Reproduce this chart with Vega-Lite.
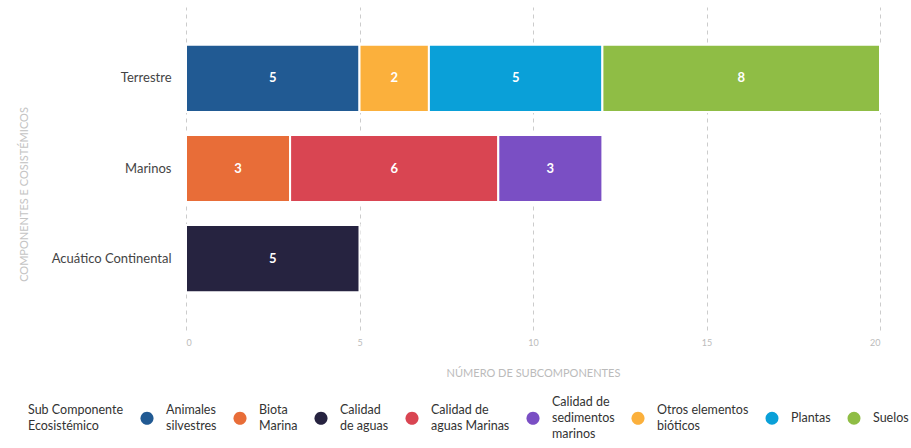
{
  "$schema": "https://vega.github.io/schema/vega-lite/v6.json",
  "width": 694,
  "height": 323,
  "autosize": {"type": "none"},
  "padding": {"left": 186, "top": 7, "right": 31, "bottom": 118},
  "config": {
    "font": "Lato",
    "view": {"stroke": null},
    "style": {"guide-label": {"lineHeight": 16}}
  },
  "data": {
    "values": [
      {"componente": "Terrestre", "sub": "Animales silvestres", "value": 5},
      {"componente": "Terrestre", "sub": "Otros elementos bióticos", "value": 2},
      {"componente": "Terrestre", "sub": "Plantas", "value": 5},
      {"componente": "Terrestre", "sub": "Suelos", "value": 8},
      {"componente": "Marinos", "sub": "Biota Marina", "value": 3},
      {"componente": "Marinos", "sub": "Calidad de aguas Marinas", "value": 6},
      {"componente": "Marinos", "sub": "Calidad de sedimentos marinos", "value": 3},
      {"componente": "Acuático Continental", "sub": "Calidad de aguas", "value": 5}
    ]
  },
  "encoding": {
    "y": {
      "field": "componente",
      "type": "nominal",
      "sort": ["Terrestre", "Marinos", "Acuático Continental"],
      "scale": {"paddingInner": 0.256, "paddingOuter": 0.42},
      "axis": {
        "domain": false,
        "ticks": false,
        "labelPadding": 15,
        "labelFontSize": 13,
        "labelColor": "#444444",
        "title": "COMPONENTES E COSISTÉMICOS",
        "titleFontSize": 11,
        "titleFontWeight": "normal",
        "titleColor": "#c4c4c4",
        "titleX": -162,
        "titleY": 187,
        "titleAngle": 270,
        "titleAlign": "center",
        "titleBaseline": "middle"
      }
    }
  },
  "layer": [
    {
      "mark": {"type": "bar", "stroke": "white", "strokeWidth": 2},
      "encoding": {
        "x": {
          "field": "value",
          "type": "quantitative",
          "stack": "zero",
          "scale": {"domain": [0, 20], "nice": false},
          "title": "NÚMERO DE SUBCOMPONENTES",
          "axis": {
            "values": [0, 5, 10, 15, 20],
            "grid": true,
            "gridDash": [4, 4],
            "gridColor": "#cccccc",
            "domain": false,
            "ticks": false,
            "labelFontSize": 9,
            "labelColor": "#bbbbbb",
            "labelPadding": 8,
            "titleFontSize": 11,
            "titleFontWeight": "normal",
            "titleColor": "#bbbbbb",
            "titlePadding": 20
          }
        },
        "color": {
          "field": "sub",
          "type": "nominal",
          "scale": {
            "domain": ["Animales silvestres", "Biota Marina", "Calidad de aguas", "Calidad de aguas Marinas", "Calidad de sedimentos marinos", "Otros elementos bióticos", "Plantas", "Suelos"],
            "range": ["#215A93", "#E86D38", "#262340", "#D94552", "#7A4FC4", "#FBB03C", "#0AA0D8", "#8FBD45"]
          },
          "legend": {
            "orient": "none",
            "legendX": -158,
            "legendY": 388,
            "direction": "horizontal",
            "columns": 8,
            "title": ["Sub Componente", "Ecosistémico"],
            "titleOrient": "left",
            "titleFontSize": 12.5,
            "titleFontWeight": "normal",
            "titleColor": "#333333",
            "titleLineHeight": 16,
            "titlePadding": 16,
            "symbolType": {"expr": "datum.value == 'Calidad de sedimentos marinos' ? 'M-1,2.454A1,1,0,1,0,1,2.454A1,1,0,1,0,-1,2.454Z' : (datum.value == 'Plantas' || datum.value == 'Suelos') ? 'circle' : 'M-1,1.227A1,1,0,1,0,1,1.227A1,1,0,1,0,-1,1.227Z'"},
            "symbolSize": 170,
            "symbolStrokeWidth": 0,
            "symbolOpacity": 1,
            "labelFontSize": 12.5,
            "labelColor": "#333333",
            "labelOffset": 12,
            "labelLimit": 300,
            "columnPadding": 16,
            "labelExpr": "datum.label == 'Animales silvestres' ? ['Animales', 'silvestres'] : datum.label == 'Biota Marina' ? ['Biota', 'Marina'] : datum.label == 'Calidad de aguas' ? ['Calidad', 'de aguas'] : datum.label == 'Calidad de aguas Marinas' ? ['Calidad  de', 'aguas Marinas'] : datum.label == 'Calidad de sedimentos marinos' ? ['Calidad  de', 'sedimentos', 'marinos'] : datum.label == 'Otros elementos bióticos' ? ['Otros elementos', 'bióticos'] : datum.label"
          }
        }
      }
    },
    {
      "transform": [
        {"window": [{"op": "sum", "field": "value", "as": "cum"}], "groupby": ["componente"], "sort": [{"field": "sub", "order": "ascending"}]},
        {"calculate": "datum.cum - datum.value / 2", "as": "mid"}
      ],
      "mark": {"type": "text", "color": "white", "fontWeight": "bold", "fontSize": 13},
      "encoding": {
        "x": {"field": "mid", "type": "quantitative", "title": "NÚMERO DE SUBCOMPONENTES"},
        "text": {"field": "value", "type": "quantitative"}
      }
    }
  ]
}
